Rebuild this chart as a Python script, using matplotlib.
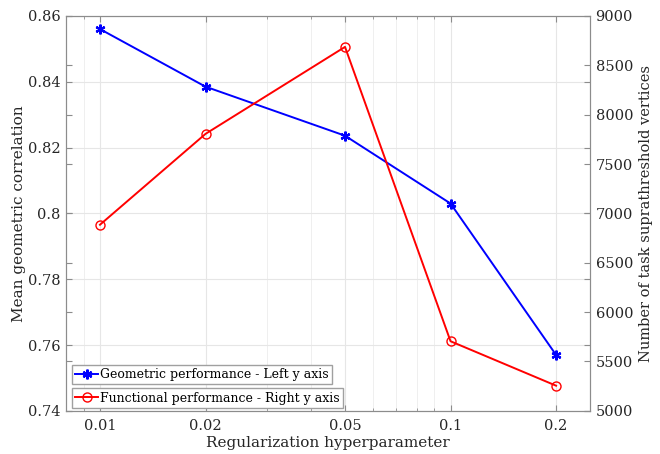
import matplotlib
matplotlib.use("Agg")
import matplotlib.pyplot as plt
from matplotlib.ticker import FixedLocator, NullFormatter

# data
reg_values = [0.01, 0.02, 0.05, 0.1, 0.2]
tick_labels = ["0.01", "0.02", "0.05", "0.1", "0.2"]
geometric = [0.856, 0.8385, 0.8236, 0.803, 0.757]
functional = [6885, 7805, 8686, 5705, 5255]

plt.rcParams["font.family"] = "DejaVu Serif"
text_col = "#262626"

fig = plt.figure(figsize=(6.6, 4.54), dpi=100)
ax = fig.add_axes([0.1, 0.095, 0.794, 0.87])
ax2 = ax.twinx()

l1, = ax.plot(reg_values, geometric, color="#0000ff", lw=1.4, marker=(6, 2, 0),
              ms=7, mew=1.6, label="Geometric performance - Left y axis")
l2, = ax2.plot(reg_values, functional, color="#ff0000", lw=1.4, marker="o",
               ms=6.5, mfc="none", mew=1.0, label="Functional performance - Right y axis")

ax.set_xscale("log")
ax.set_xlim(0.008, 0.25)
ax.set_xticks(reg_values)
ax.set_xticklabels(tick_labels)
ax.xaxis.set_minor_locator(FixedLocator([0.008, 0.009, 0.03, 0.04, 0.06, 0.07, 0.08, 0.09]))
ax.xaxis.set_minor_formatter(NullFormatter())

ax.set_ylim(0.74, 0.86)
ax.set_yticks([0.74, 0.76, 0.78, 0.8, 0.82, 0.84, 0.86])
ax.set_yticklabels(["0.74", "0.76", "0.78", "0.8", "0.82", "0.84", "0.86"])
ax2.set_ylim(5000, 9000)
ax2.set_yticks([5000, 5500, 6000, 6500, 7000, 7500, 8000, 8500, 9000])

ax.grid(True, which="major", color="#e6e6e6", lw=0.8)
ax.grid(True, which="minor", axis="x", color="#ececec", lw=0.6)
ax.set_axisbelow(True)

for a in (ax, ax2):
    for s in a.spines.values():
        s.set_color("#8c8c8c")
        s.set_linewidth(0.8)
ax.tick_params(which="both", direction="in", colors="#8c8c8c", labelcolor=text_col,
               labelsize=10.5, top=True, right=True, length=4, pad=4)
ax.tick_params(axis="x", pad=6)
ax.tick_params(which="minor", length=2)
ax2.tick_params(direction="in", colors="#8c8c8c", labelcolor=text_col, labelsize=10.5,
                left=True, length=4, pad=4)

ax.set_xlabel("Regularization hyperparameter", fontsize=11, color=text_col, labelpad=2)
ax.set_ylabel("Mean geometric correlation", fontsize=11, color=text_col, labelpad=1)
ax2.set_ylabel("Number of task suprathreshold vertices", fontsize=10.5, color=text_col,
               labelpad=4)

leg_kw = dict(loc="lower left", fontsize=9, fancybox=False, framealpha=1,
              edgecolor="#a0a0a0", borderpad=0.25, handlelength=1.8,
              handletextpad=0.2, borderaxespad=0)
leg1 = ax2.legend(handles=[l1], bbox_to_anchor=(0.012, 0.068), **leg_kw)
ax2.add_artist(leg1)
ax2.legend(handles=[l2], bbox_to_anchor=(0.012, 0.008), **leg_kw)

fig.savefig("out.png", dpi=100)
